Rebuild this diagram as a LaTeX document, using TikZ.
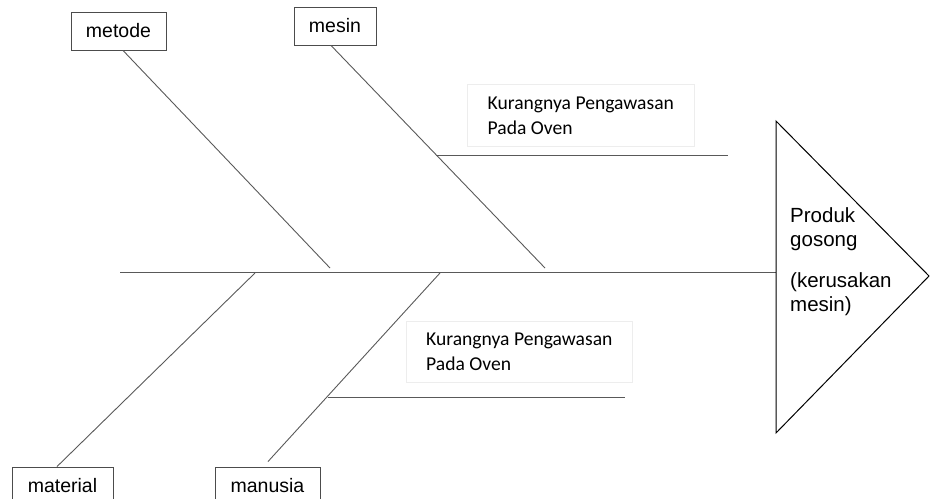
\documentclass[tikz,border=0pt]{standalone}
\usepackage{fontspec}
\setmainfont{Liberation Sans}
\newfontfamily\calfont{Carlito}
\begin{document}
\begin{tikzpicture}[x=1pt,y=-1pt,
  bone/.style={draw=black!65,line width=0.9pt},
  catbox/.style={draw=black!70,line width=0.9pt,fill=white,minimum height=38pt,inner sep=0pt,font=\fontsize{19.5}{22}\selectfont},
  causebox/.style={draw=black!7,line width=0.6pt,anchor=north west,align=left,inner xsep=7pt,inner ysep=0pt,text depth=0pt,font=\calfont\fontsize{19.6}{25}\selectfont},
  headtri/.style={draw=black,line width=1pt}]
\useasboundingbox (0,0) rectangle (931,498);
% spine
\coordinate (spL) at (120,272);
\coordinate (spR) at (776,272);
\draw[bone] (spL) -- (spR);
% head
\coordinate (tA) at (776,121);
\coordinate (tB) at (929,276);
\coordinate (tC) at (776,433);
\draw[headtri] (tA) -- (tB) -- (tC) -- cycle;
\node[anchor=north west,align=left,inner sep=0pt,font=\fontsize{20.5}{24}\selectfont] (effect) at (790,207) {Produk\\gosong\\[17pt](kerusakan\\mesin)};
% category boxes
\node[catbox,minimum width=95pt] (metode) at (118.5,31) {metode};
\node[catbox,minimum width=82pt] (mesin) at (335,26) {mesin};
\node[catbox,minimum width=101pt] (material) at (62.5,486) {material};
\node[catbox,minimum width=105pt] (manusia) at (267.5,486) {manusia};
% bone ends on spine
\coordinate (e1) at (330,268);
\coordinate (e2) at (545,268);
\coordinate (e3) at (255,273);
\coordinate (e4) at (440,273);
\draw[bone] (metode.south -| 123,0) -- (e1);
\draw[bone] (mesin.south -| 331,0) -- (e2);
\draw[bone] (material.north -| 57,0) -- (e3);
\draw[bone] (manusia.north -| 268,0) ++(0,-5) coordinate (m4) (m4) -- (e4);
% sub-causes
\coordinate (u1) at (436,155);
\coordinate (u2) at (728,155);
\draw[bone] (u1) -- (u2);
\coordinate (l1) at (328,397);
\coordinate (l2) at (625,397);
\draw[bone] (l1) -- (l2);
\node[causebox,minimum width=227pt,minimum height=62pt] (cause1) at (467,84) {Kurangnya Pengawasan\\Pada Oven};
\node[causebox,minimum width=226pt,minimum height=61pt] (cause2) at (406,321) {Kurangnya Pengawasan\\Pada Oven};
\end{tikzpicture}
\end{document}
